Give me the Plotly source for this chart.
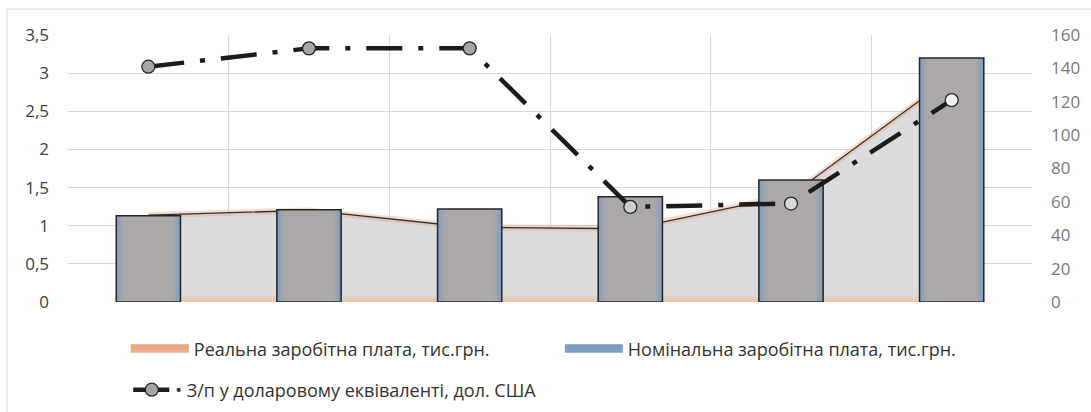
import plotly.graph_objects as go

# ---- data ----
categories = ["1", "2", "3", "4", "5", "6"]
nominal_wage = [1.13, 1.21, 1.22, 1.38, 1.60, 3.20]   # тис.грн.
real_wage = [1.14, 1.20, 0.98, 0.96, 1.40, 2.95]      # тис.грн.
usd_wage = [141, 152, 152, 57, 59, 121]               # дол. США

name_real = "Реальна заробітна плата, тис.грн."
name_nominal = "Номінальна заробітна плата, тис.грн."
name_usd = "• З/п у доларовому еквіваленті, дол. США"

left_ticks = [0, 0.5, 1, 1.5, 2, 2.5, 3, 3.5]
right_ticks = [0, 20, 40, 60, 80, 100, 120, 140, 160]

FONT = "Open Sans"
fig = go.Figure()

# ---- area: real wage (behind the bars) ----
fig.add_trace(go.Scatter(
    x=categories, y=real_wage, mode="lines", fill="tozeroy",
    line=dict(width=0), fillcolor="#dcdcde",
    fillgradient=dict(type="vertical",
                      colorscale=[[0, "#efc0a2"], [0.03, "#dcdcde"], [1, "#dcdcde"]],
                      start=0, stop=3.5),
    showlegend=False, hoverinfo="skip", zorder=-3))
fig.add_trace(go.Scatter(
    x=categories, y=real_wage, mode="lines",
    line=dict(color="rgba(236,165,122,0.4)", width=6),
    showlegend=False, hoverinfo="skip", zorder=-2))
fig.add_trace(go.Scatter(
    x=categories, y=real_wage, mode="lines",
    line=dict(color="#333333", width=1.3),
    showlegend=False, hoverinfo="skip", zorder=-1))

# legend entries (wide swatches like the original)
fig.add_trace(go.Scatter(
    x=[None], y=[None], mode="lines", fill="tozeroy", name=name_real,
    fillcolor="#eeb08c", line=dict(color="#e9a982", width=5),
    legend="legend", hoverinfo="skip"))
fig.add_trace(go.Scatter(
    x=[None], y=[None], mode="lines", fill="tozeroy", name=name_nominal,
    fillcolor="#819fc4", line=dict(color="#7b9bc1", width=5),
    legend="legend", hoverinfo="skip"))

# ---- bars: nominal wage, layered to imitate the gradient ----
for w, c in [(0.40, "#7f9dc2"), (0.375, "#8fa1b9"), (0.35, "#9ea4b0"),
             (0.32, "#a8a7aa"), (0.29, "#aca8a8")]:
    fig.add_trace(go.Bar(
        x=categories, y=nominal_wage, width=w, name=name_nominal,
        marker=dict(color=c, line=dict(width=0)),
        showlegend=False))
fig.add_trace(go.Bar(
    x=categories, y=nominal_wage, width=0.40, name=name_nominal,
    marker=dict(color="rgba(0,0,0,0)", line=dict(color="#262626", width=1.5)),
    showlegend=False, hoverinfo="skip"))

# ---- line: USD equivalent (right axis, on top) ----
fig.add_trace(go.Scatter(
    x=categories, y=usd_wage, yaxis="y2", mode="lines+markers", name=name_usd,
    line=dict(color="#1c1c1c", width=4.5, dash="36px,16px,5px,16px"),
    marker=dict(size=13, color=["#a6a6a6", "#a6a6a6", "#a6a6a6", "#cfcfcf", "#d9d9d9", "#f0f0f0"],
                line=dict(color="#262626", width=1.3)),
    legend="legend2"))

fig.update_layout(
    width=1091, height=412,
    margin=dict(l=68, r=59, t=35, b=110),
    paper_bgcolor="white", plot_bgcolor="white",
    separators=", ",
    barmode="overlay",
    font=dict(family=FONT, size=17, color="#333333"),
    xaxis=dict(type="category", range=[-0.5, 5.5], showticklabels=False,
               tickson="boundaries", showgrid=True, gridcolor="#d9d9d9", gridwidth=1,
               showline=True, linecolor="#c0c0c0", linewidth=2, ticks="", zeroline=False),
    yaxis=dict(range=[0, 3.5], tickvals=left_ticks, showgrid=True, gridcolor="#d9d9d9",
               gridwidth=1, zeroline=False, ticks="", ticklabelstandoff=18,
               tickfont=dict(family=FONT, size=17, color="#404040")),
    yaxis2=dict(range=[0, 160], tickvals=right_ticks, overlaying="y", side="right",
                showgrid=False, zeroline=False, ticks="", ticklabelstandoff=18,
                tickfont=dict(family=FONT, size=17, color="#7a7a7a")),
    legend=dict(orientation="h", xref="paper", x=0.060, xanchor="left",
                yref="container", y=0.153, yanchor="middle",
                itemwidth=58, entrywidth=361,
                font=dict(family=FONT, size=18, color="#333333"),
                bgcolor="rgba(0,0,0,0)"),
    legend2=dict(orientation="h", xref="paper", x=0.0625, xanchor="left",
                 yref="container", y=0.0534, yanchor="middle", itemwidth=37,
                 font=dict(family=FONT, size=18, color="#333333"),
                 bgcolor="rgba(0,0,0,0)"),
    shapes=[dict(type="rect", xref="paper", yref="paper", x0=-0.0633, x1=1.2,
                 y0=-1.0, y1=1.097, line=dict(color="#d9d9d9", width=1),
                 fillcolor="rgba(0,0,0,0)", layer="below")],
)

fig.write_html("out.html", config={"displayModeBar": False},
               post_script="document.body.style.margin='0';")
